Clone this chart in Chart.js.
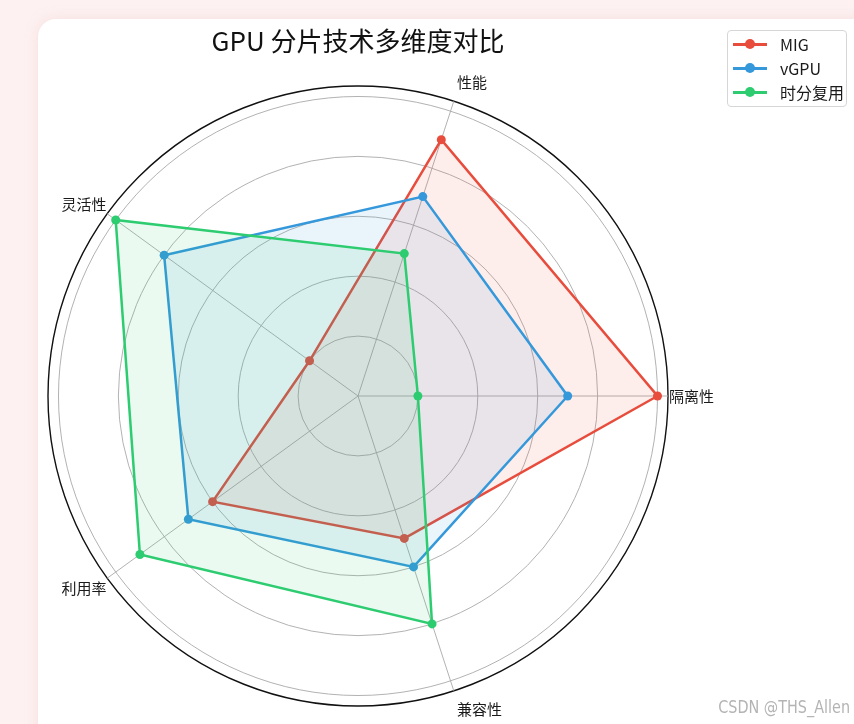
<!DOCTYPE html>
<html lang="zh">
<head>
<meta charset="utf-8">
<title>GPU 分片技术多维度对比</title>
<script src="https://cdn.jsdelivr.net/npm/chart.js@4.4.1/dist/chart.umd.min.js"></script>
<style>
  html, body { margin: 0; padding: 0; }
  body {
    width: 854px; height: 724px; overflow: hidden; position: relative;
    background: #fdf1f1;
    font-family: 'Noto Sans CJK SC', 'Noto Sans', sans-serif;
  }
  #panel {
    position: absolute; left: 38px; top: 19px; width: 840px; height: 740px;
    background: #fff; border-radius: 18px;
    box-shadow: 0 0 12px rgba(245, 205, 205, 0.5);
  }
  #wrap { position: absolute; left: 0; top: 0; width: 854px; height: 724px; }
  #legend {
    position: absolute; left: 727px; top: 30px; width: 120px; height: 77px;
    border: 1px solid #d6d6d6; border-radius: 4px; background: rgba(255, 255, 255, 0.9);
    box-sizing: border-box; padding-top: 1px;
  }
  #legend .item { height: 24px; display: flex; align-items: center; font-size: 16px; color: #1a1a1a; }
  #legend .swatch { position: relative; width: 34px; height: 12px; margin: 0 13px 0 5px; }
  #legend .swatch i { position: absolute; left: 0; right: 0; top: 5px; height: 2.5px; }
  #legend .swatch b { position: absolute; left: 12px; top: 1px; width: 10px; height: 10px; border-radius: 50%; }
  #mark {
    position: absolute; right: 4px; top: 697px;
    font-family: 'Liberation Sans Narrow', 'DejaVu Sans Condensed', sans-serif;
    font-size: 16px; color: #b4b4b4; transform: scaleY(1.1);
  }
</style>
</head>
<body>
<div id="panel"></div>
<div id="wrap"><canvas id="radar"></canvas></div>
<div id="legend"></div>
<div id="mark">CSDN @THS_Allen</div>

<script>
// axes listed clockwise starting from the right (Chart.js runs clockwise)
const dimensions = ['隔离性', '兼容性', '利用率', '灵活性', '性能'];
const seriesNames = ['MIG', 'vGPU', '时分复用'];
const migScores = [10, 5, 6, 2, 9];
const vgpuScores = [7, 6, 7, 8, 7];
const timeSliceScores = [2, 8, 9, 10, 5];
const gridValues = [0, 2, 4, 6, 8, 10];
const axisMax = 10.35;

const seriesColors = ['#e74c3c', '#3498db', '#2ecc71'];
const labelPadding = [1, 10, 1, 1, 10];
const radar = { x: 358, y: 396, radius: 310 };

function withAlpha(hex, a) {
    const n = parseInt(hex.slice(1), 16);
    return `rgba(${n >> 16}, ${(n >> 8) & 255}, ${n & 255}, ${a})`;
}

const seriesValues = [migScores, vgpuScores, timeSliceScores];
const datasets = seriesNames.map((name, i) => ({
    label: name,
    data: seriesValues[i],
    borderColor: seriesColors[i],
    backgroundColor: withAlpha(seriesColors[i], 0.1),
    pointBackgroundColor: seriesColors[i],
    pointBorderColor: seriesColors[i],
    pointRadius: 4.5,
    pointBorderWidth: 0,
    borderWidth: 2.5,
    fill: true,
    clip: false,
    order: seriesNames.length - i
}));

// html legend, same look as the matplotlib one
const legend = document.getElementById('legend');
seriesNames.forEach((name, i) => {
    const row = document.createElement('div');
    row.className = 'item';
    row.innerHTML = `<span class="swatch"><i style="background:${seriesColors[i]}"></i><b style="background:${seriesColors[i]}"></b></span><span></span>`;
    row.lastChild.textContent = name;
    legend.appendChild(row);
});

new Chart(document.getElementById('radar'), {
    type: 'radar',
    data: { labels: dimensions, datasets: datasets },
    options: {
        responsive: true,
        maintainAspectRatio: false,
        animation: false,
        layout: { padding: { right: 138 } },
        plugins: {
            legend: { display: false },
            tooltip: { enabled: false },
            title: {
                display: true,
                text: 'GPU 分片技术多维度对比',
                color: '#111',
                font: { family: "'Noto Sans CJK SC', sans-serif", size: 26, weight: 'normal' },
                padding: { top: 26, bottom: 8 }
            }
        },
        scales: {
            r: {
                min: 0,
                max: axisMax,
                startAngle: 90,
                // pin the polar area where the original figure has it
                afterSetDimensions: (scale) => {
                    scale.left = 0;
                    scale.top = 0;
                    scale.right = scale.chart.width;
                    scale.bottom = scale.chart.height;
                    scale.xCenter = radar.x;
                    scale.yCenter = radar.y;
                    scale.drawingArea = radar.radius;
                },
                afterBuildTicks: (scale) => {
                    scale.ticks = gridValues.concat([axisMax]).map(v => ({ value: v }));
                },
                ticks: { display: false },
                grid: {
                    circular: true,
                    color: (c) => (c.tick && c.tick.value > 10 ? '#111' : '#a9a9a9'),
                    lineWidth: (c) => (c.tick && c.tick.value > 10 ? 1.4 : 0.9)
                },
                angleLines: { color: '#a9a9a9', lineWidth: 0.9 },
                pointLabels: {
                    color: '#1a1a1a',
                    font: { family: "'Noto Sans CJK SC', sans-serif", size: 15 },
                    padding: (c) => labelPadding[c.index]
                }
            }
        }
    }
});
</script>
</body>
</html>
